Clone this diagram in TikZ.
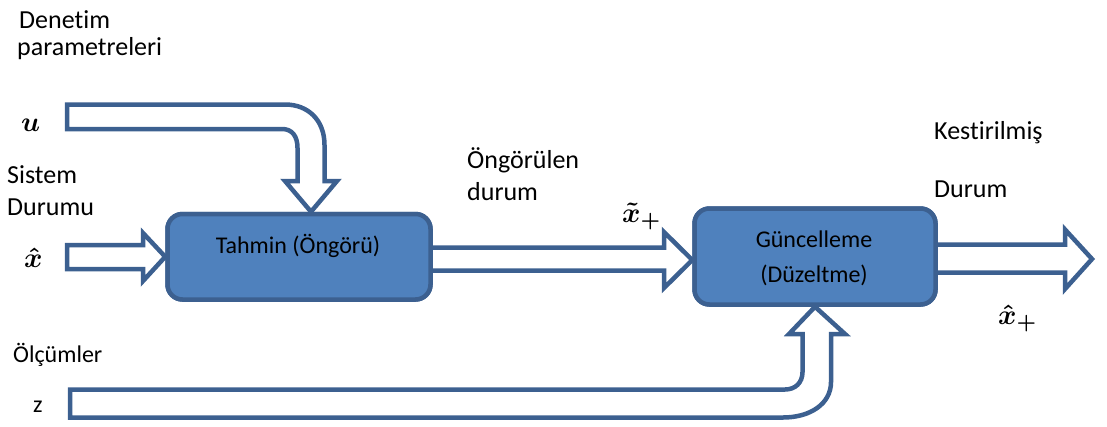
\documentclass[tikz,border=0pt]{standalone}
\usepackage{fontspec}
\setmainfont{Carlito}[Ligatures=NoCommon]
\definecolor{boxfill}{HTML}{4F81BD}
\definecolor{edge}{HTML}{3C6090}
\newcommand{\bigsym}[1]{\scalebox{2.8}{\boldmath$#1$}}
\begin{document}
\begin{tikzpicture}[x=1pt,y=-1pt,
  blockbox/.style={draw=edge,fill=boxfill,line width=4.5pt,rounded corners=15pt,inner sep=0pt},
  flow/.style={draw=edge,fill=white,line width=4.5pt,line join=miter},
  lbl/.style={anchor=base west,inner sep=0pt,font=\fontsize{24}{29}\selectfont},
  biglbl/.style={lbl,font=\fontsize{26}{31}\selectfont},
  inlbl/.style={anchor=base,inner sep=0pt,font=\fontsize{24}{29}\selectfont},
  sym/.style={anchor=base west,inner sep=0pt}]
\useasboundingbox (0,0) rectangle (1107,426);

% processing blocks
\node[blockbox,minimum width=263pt,minimum height=85.5pt] (tahmin) at (299,256.75) {};
\node[blockbox,minimum width=241pt,minimum height=96pt] (guncel) at (815,256.5) {};

% predicted state: prediction block -> update block
\draw[flow] (430.5,247.5) -- (664,247.5) -- (664,232) -- (guncel.west |- 0,260) -- (664,288)
  -- (664,270.5) -- (430.5,270.5) -- cycle;
% estimated state leaving the update block
\draw[flow] (935.5,244.5) -- (1065,244.5) -- (1065,229.5) -- (1092,259) -- (1065,289)
  -- (1065,272.5) -- (935.5,272.5) -- cycle;

% redraw the blocks over the arrow tails
\node[blockbox,minimum width=263pt,minimum height=85.5pt] at (tahmin) {};
\node[blockbox,minimum width=241pt,minimum height=96pt] at (guncel) {};

% system state input
\draw[flow] (67,245) -- (143,245) -- (143,233) -- (tahmin.west) -- (143,281)
  -- (143,269) -- (67,269) -- cycle;

% control input bending down onto the prediction block
\draw[flow] (67,104.5) -- (285,104.5) .. controls (308,104.5) and (324.5,120) .. (324.5,145)
  -- (324.5,181) -- (337,181) -- (tahmin.north -| 311,0) -- (285,181) -- (297.5,181)
  -- (297.5,148) .. controls (297.5,136) and (292,129) .. (282,129) -- (67,129) -- cycle;

% measurements bending up into the update block
\draw[flow] (70,389.5) -- (785,389.5) .. controls (795,389.5) and (802.5,383) .. (802.5,372)
  -- (802.5,334) -- (789,334) -- (guncel.south) -- (845,334) -- (831,334)
  -- (831,382) .. controls (831,404) and (810,417.5) .. (783,417.5) -- (70,417.5) -- cycle;

% block labels
\node[inlbl] (tlbl) at (298,253) {Tahmin (Öngörü)};
\node[inlbl] (glbl1) at (814,247) {Güncelleme};
\node[inlbl] (glbl2) at (814,282) {(Düzeltme)};

% text labels
\node[biglbl] (denetim) at (19,28) {Denetim};
\node[biglbl] (param) at (17,55) {parametreleri};
\node[biglbl] (sistem) at (7,183) {Sistem};
\node[biglbl] (durumu) at (7,215) {Durumu};
\node[biglbl] (ongor) at (467,168) {Öngörülen};
\node[biglbl] (ongdur) at (467,200) {durum};
\node[biglbl] (kest) at (934,139) {Kestirilmiş};
\node[biglbl] (kestdur) at (934,197) {Durum};
\node[lbl] (olcum) at (13,362) {Ölçümler};
\node[lbl] (zlbl) at (33,412) {z};

% symbols
\node[sym] (usym) at (21,131) {\bigsym{u}};
\node[sym] (xsym) at (24,267) {\bigsym{\hat{x}}};
\node[sym] (xpred) at (622,222) {\bigsym{\tilde{x}_+}};
\node[sym] (xest) at (998,324) {\bigsym{\hat{x}_+}};
\end{tikzpicture}
\end{document}
